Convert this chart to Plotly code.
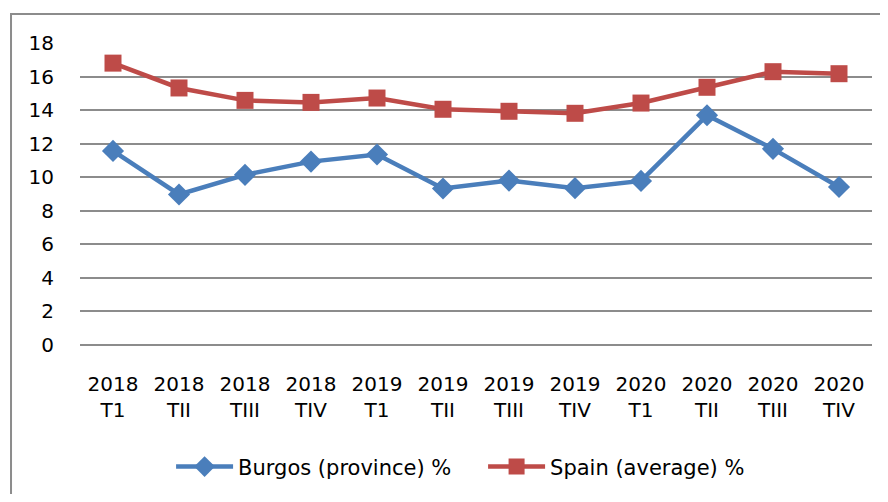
import plotly.graph_objects as go

categories = ["2018<br>T1", "2018<br>TII", "2018<br>TIII", "2018<br>TIV",
              "2019<br>T1", "2019<br>TII", "2019<br>TIII", "2019<br>TIV",
              "2020<br>T1", "2020<br>TII", "2020<br>TIII", "2020<br>TIV"]
burgos = [11.57, 8.97, 10.14, 10.93, 11.35, 9.33, 9.80, 9.35, 9.78, 13.69, 11.69, 9.42]
spain = [16.8, 15.32, 14.58, 14.46, 14.72, 14.05, 13.93, 13.81, 14.42, 15.36, 16.29, 16.17]
y_ticks = [0, 2, 4, 6, 8, 10, 12, 14, 16, 18]

FONT = "DejaVu Sans, Open Sans, sans-serif"

fig = go.Figure()
fig.add_trace(go.Scatter(
    x=categories, y=burgos, name="Burgos (province) %", mode="lines+markers",
    line=dict(color="#4A7EBB", width=4.5),
    marker=dict(symbol="diamond", size=17, color="#4A7EBB"),
))
fig.add_trace(go.Scatter(
    x=categories, y=spain, name="Spain (average) %", mode="lines+markers",
    line=dict(color="#BE4B48", width=4.5),
    marker=dict(symbol="square", size=17, color="#BE4B48"),
))

fig.update_layout(
    width=872, height=486,
    margin=dict(l=72, r=8, t=35, b=148),
    paper_bgcolor="white", plot_bgcolor="white",
    font=dict(family=FONT, size=20, color="black"),
    showlegend=True,
    legend=dict(orientation="h", x=0.115, xanchor="left", y=-0.399, yanchor="middle",
                font=dict(size=21), itemwidth=57, entrywidth=240, entrywidthmode="pixels",
                bgcolor="rgba(0,0,0,0)"),
    xaxis=dict(type="category", showgrid=False, showline=False, ticks="",
               tickfont=dict(size=20), range=[-0.5, 11.5], automargin=False,
               ticklabelstandoff=25),
    yaxis=dict(range=[0, 18], tickvals=y_ticks, showgrid=True, gridcolor="#8C8C8C",
               gridwidth=1.5, zeroline=True, zerolinecolor="#8C8C8C", zerolinewidth=1.5,
               showline=False, ticks="", ticklabelstandoff=25, tickfont=dict(size=20),
               automargin=False),
    shapes=[dict(type="rect", xref="paper", yref="paper",
                 x0=-0.0871, x1=1.2, y0=-0.8, y1=1.0957,
                 line=dict(color="#8C8C8C", width=2), layer="below")],
)

fig.write_html("out.html")
